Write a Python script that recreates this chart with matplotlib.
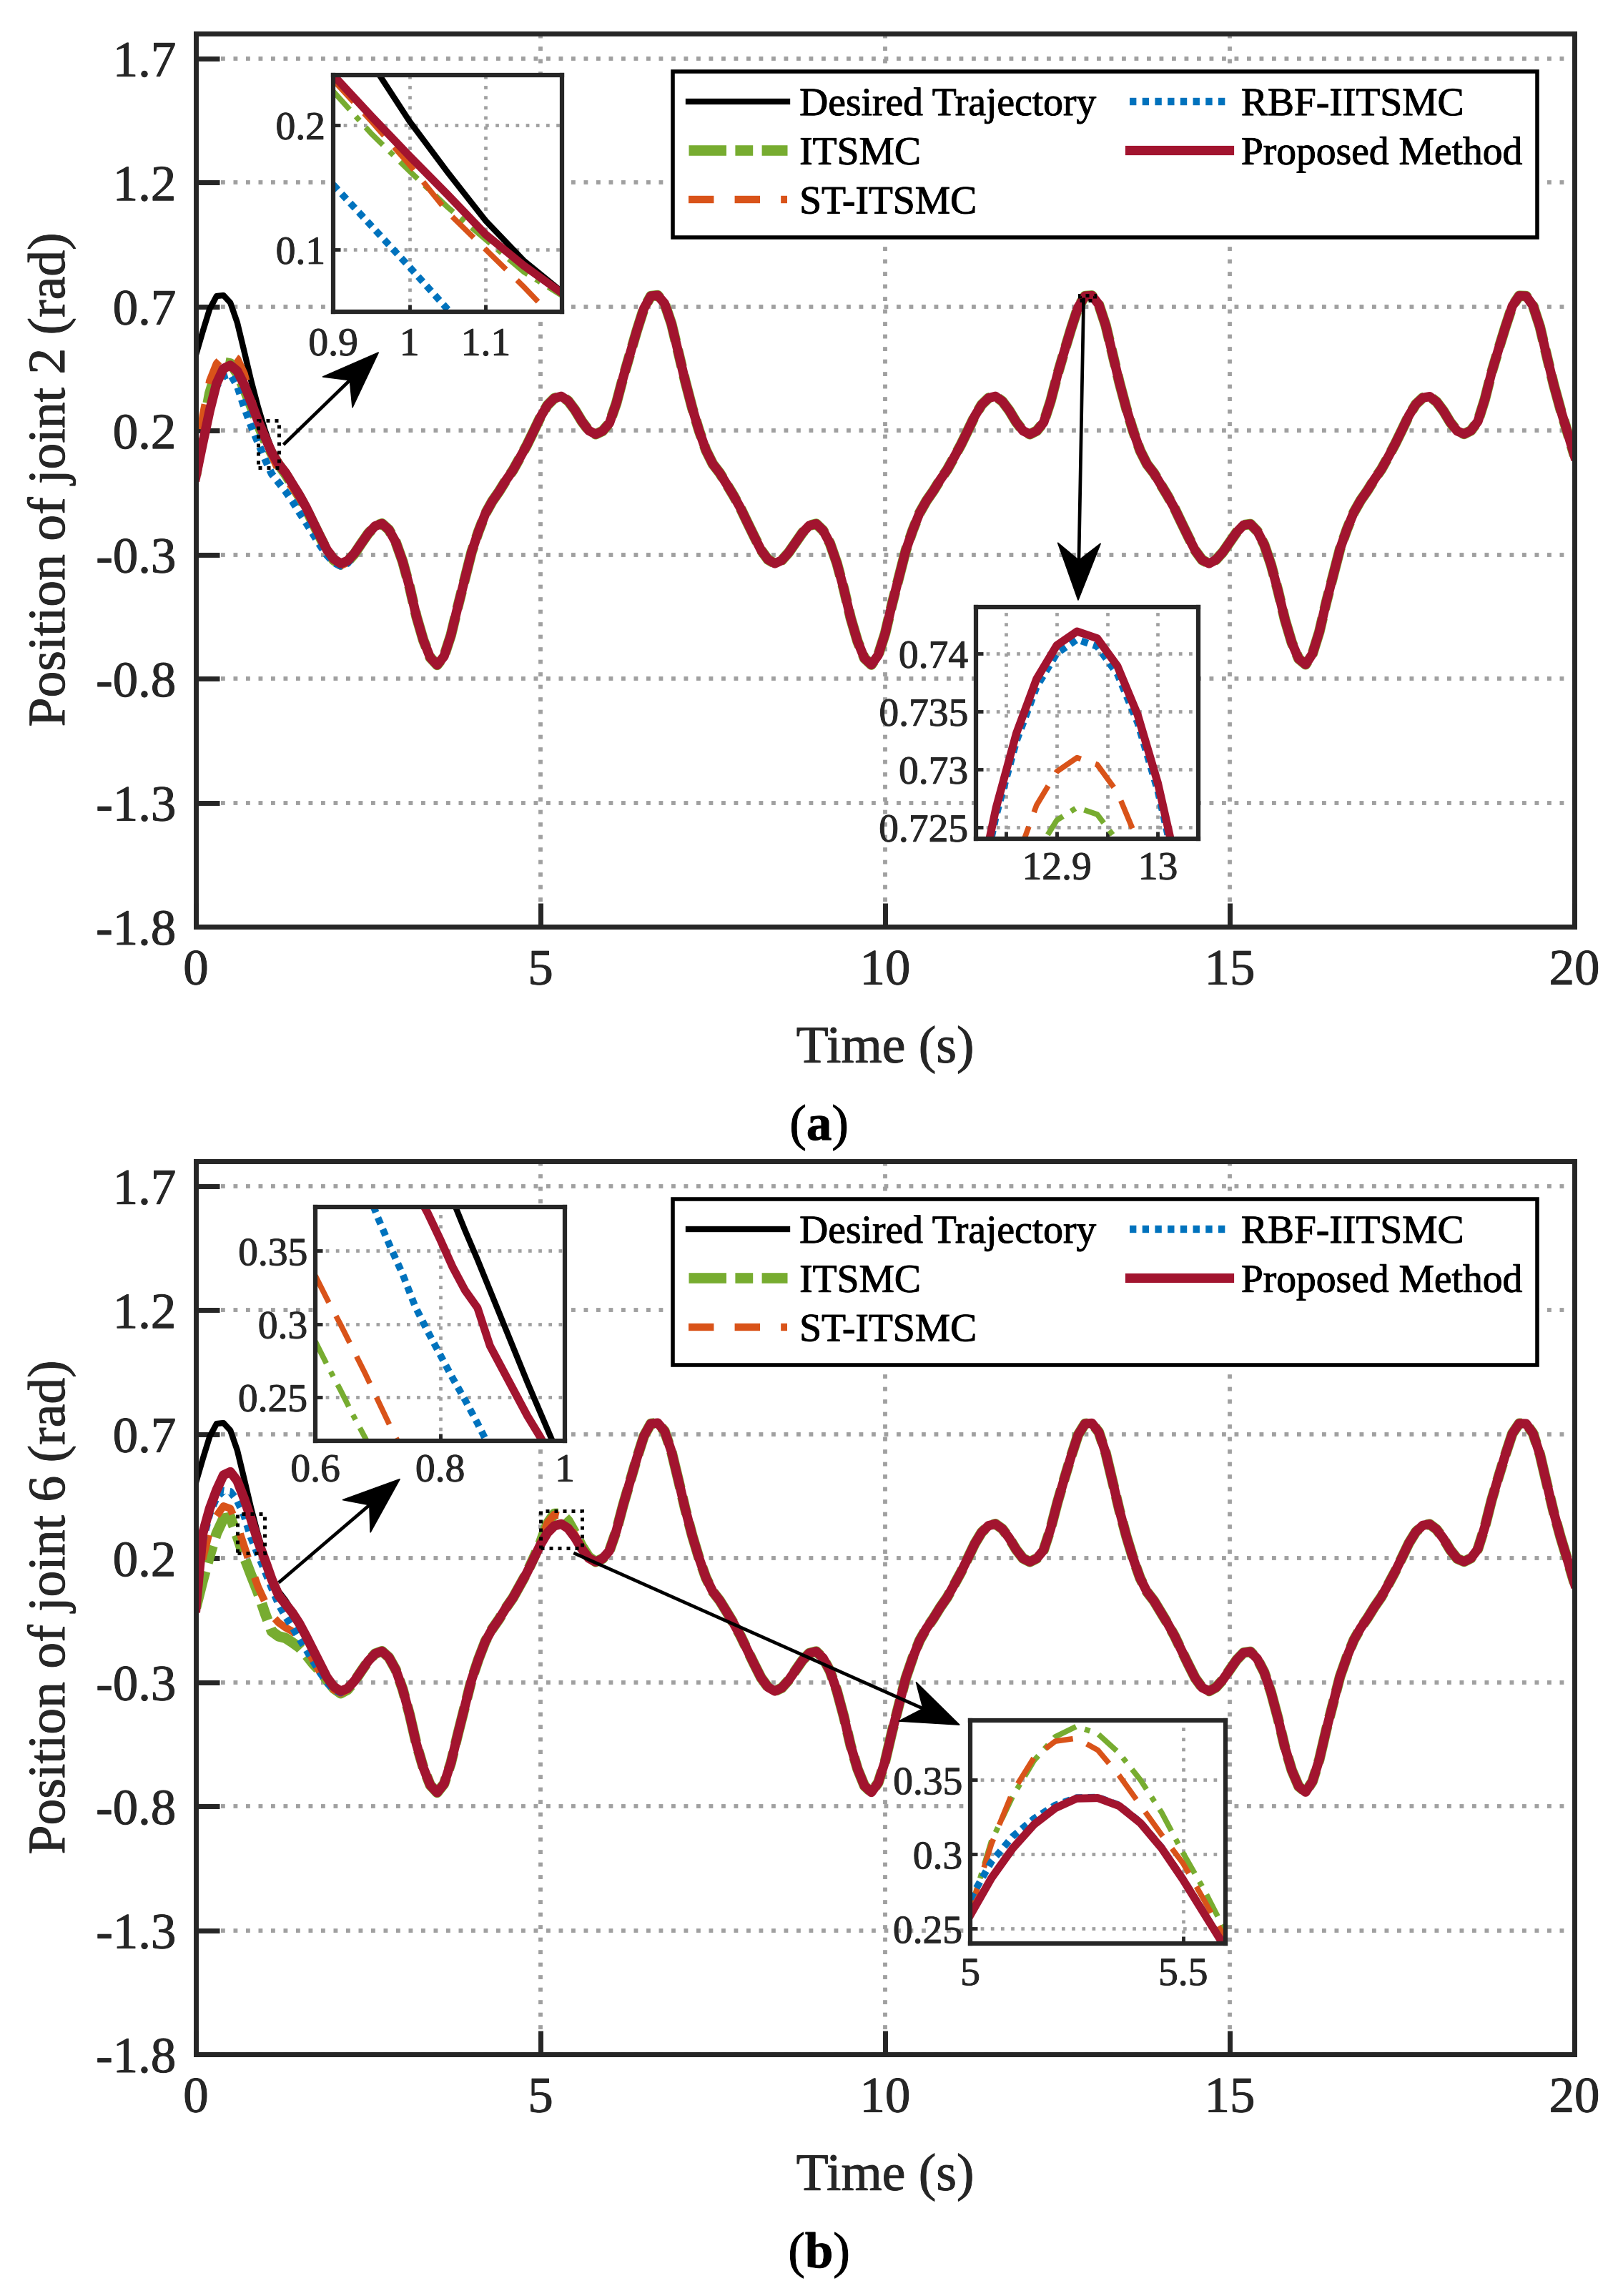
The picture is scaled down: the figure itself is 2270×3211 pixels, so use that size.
import numpy as np
import matplotlib
matplotlib.use("Agg")
import matplotlib.pyplot as plt
import matplotlib.patheffects as pe
from matplotlib.patches import Polygon, Rectangle

plt.rcParams['font.family'] = ['Liberation Serif', 'DejaVu Serif']
plt.rcParams['axes.unicode_minus'] = False
plt.rcParams['mathtext.fontset'] = 'custom'
plt.rcParams['mathtext.rm'] = 'Liberation Serif'
plt.rcParams['mathtext.bf'] = 'Liberation Serif:bold'

# ---------------- data ----------------
dt = 0.1
time = np.round(np.arange(201) * dt, 1)          # 0 .. 20 s

# desired trajectory, 0.1 s samples, 0..20 s
desired = [
    0.505, 0.600, 0.690, 0.742, 0.745, 0.715, 0.635, 0.520, 0.402, 0.296,
    0.203, 0.123, 0.066, 0.030, -0.015, -0.060, -0.110, -0.168, -0.225, -0.280,
    -0.318, -0.336, -0.325, -0.295, -0.255, -0.215, -0.185, -0.175, -0.200, -0.250,
    -0.328, -0.430, -0.550, -0.645, -0.715, -0.745, -0.710, -0.625, -0.510, -0.400,
    -0.290, -0.207, -0.135, -0.085, -0.045, 0.000, 0.040, 0.090, 0.140, 0.197,
    0.255, 0.302, 0.330, 0.338, 0.320, 0.283, 0.237, 0.200, 0.185, 0.198,
    0.230, 0.310, 0.415,
    0.510, 0.605, 0.692, 0.742, 0.745, 0.712, 0.630, 0.515, 0.398, 0.292,
    0.200, 0.121, 0.065, 0.029, -0.016, -0.062, -0.112, -0.170, -0.227, -0.282,
    -0.320, -0.336, -0.323, -0.292, -0.252, -0.212, -0.183, -0.176, -0.203, -0.255,
    -0.335, -0.438, -0.556, -0.650, -0.718, -0.744, -0.705, -0.618, -0.500, -0.392,
    -0.283, -0.202, -0.132, -0.083, -0.043, 0.002, 0.042, 0.092, 0.143, 0.200,
    0.258, 0.304, 0.331, 0.338, 0.318, 0.281, 0.235, 0.199, 0.185, 0.199,
    0.233, 0.318, 0.425,
    0.520, 0.612, 0.697, 0.742, 0.744, 0.708, 0.624, 0.508, 0.392, 0.288,
    0.197, 0.119, 0.064, 0.028, -0.018, -0.064, -0.114, -0.172, -0.229, -0.284,
    -0.322, -0.336, -0.321, -0.290, -0.250, -0.210, -0.181, -0.177, -0.206, -0.260,
    -0.342, -0.446, -0.562, -0.655, -0.720, -0.743, -0.700, -0.611, -0.492, -0.385,
    -0.277, -0.198, -0.130, -0.081, -0.041, 0.004, 0.044, 0.094, 0.146, 0.203,
    0.261, 0.306, 0.332, 0.337, 0.316, 0.279, 0.233, 0.198, 0.186, 0.200,
    0.237, 0.325, 0.435,
    0.528, 0.618, 0.702, 0.743, 0.742, 0.703, 0.618, 0.500, 0.385, 0.284,
    0.193, 0.100,
]

# start-up part (0 .. 2.3 s) of each controller, joint 2
itsmc_j2 = [0.020, 0.200, 0.350, 0.440, 0.475, 0.470, 0.430, 0.370, 0.300, 0.227,
            0.163, 0.108, 0.063, 0.025, -0.020, -0.065, -0.115, -0.172, -0.228, -0.283,
            -0.322, -0.340, -0.328, -0.297]
st_j2 = [0.020, 0.260, 0.400, 0.470, 0.500, 0.510, 0.490, 0.430, 0.330, 0.236,
         0.168, 0.100, 0.038, 0.005, -0.030, -0.070, -0.118, -0.175, -0.232, -0.287,
         -0.327, -0.345, -0.332, -0.298]
rbf_j2 = [0.020, 0.160, 0.290, 0.380, 0.420, 0.428, 0.380, 0.295, 0.220, 0.152,
          0.086, 0.025, -0.010, -0.045, -0.085, -0.130, -0.172, -0.217, -0.262, -0.302,
          -0.332, -0.346, -0.335, -0.300]
prop_j2 = [0.015, 0.150, 0.280, 0.390, 0.450, 0.463, 0.440, 0.385, 0.315, 0.240,
           0.175, 0.112, 0.065, 0.030, -0.015, -0.060, -0.110, -0.168, -0.225, -0.280,
           -0.318, -0.336, -0.325, -0.295]

# start-up part (0 .. 2.3 s) of each controller, joint 6
itsmc_j6 = [0.000, 0.110, 0.210, 0.300, 0.360, 0.365, 0.288, 0.205, 0.132, 0.062,
            -0.020, -0.095, -0.115, -0.122, -0.140, -0.160, -0.190, -0.225, -0.255, -0.290,
            -0.325, -0.345, -0.330, -0.297]
st_j6 = [0.010, 0.200, 0.310, 0.370, 0.410, 0.400, 0.333, 0.248, 0.164, 0.085,
         0.025, -0.030, -0.060, -0.080, -0.095, -0.120, -0.160, -0.210, -0.260, -0.300,
         -0.330, -0.345, -0.330, -0.297]
rbf_j6 = [0.010, 0.270, 0.380, 0.445, 0.472, 0.468, 0.432, 0.373, 0.283, 0.215,
          0.150, 0.080, 0.015, -0.035, -0.078, -0.123, -0.168, -0.215, -0.260, -0.300,
          -0.330, -0.342, -0.328, -0.296]
prop_j6 = [0.000, 0.300, 0.400, 0.475, 0.535, 0.548, 0.512, 0.440, 0.358, 0.269,
           0.194, 0.115, 0.050, 0.015, -0.020, -0.063, -0.115, -0.170, -0.225, -0.280,
           -0.318, -0.336, -0.325, -0.295]

# joint 6: overshoot of ITSMC / ST-ITSMC around t = 4.9 .. 5.7 s
bump_start = 4.9
itsmc_j6_bump = [0.200, 0.262, 0.339, 0.379, 0.380, 0.350, 0.301, 0.248, 0.205]
st_j6_bump = [0.198, 0.262, 0.342, 0.376, 0.370, 0.333, 0.294, 0.243, 0.203]

# zoom window (a) left, t = 0.90 .. 1.20
z1_t = [0.90, 0.95, 1.00, 1.05, 1.10, 1.15, 1.20]
z1_desired = [0.296, 0.250, 0.203, 0.162, 0.123, 0.091, 0.066]
z1_itsmc = [0.227, 0.193, 0.163, 0.134, 0.108, 0.082, 0.063]
z1_st = [0.236, 0.203, 0.168, 0.130, 0.100, 0.070, 0.038]
z1_rbf = [0.152, 0.119, 0.086, 0.052, 0.020, -0.010, -0.040]
z1_prop = [0.240, 0.207, 0.175, 0.144, 0.112, 0.087, 0.065]

# zoom window (a) right, t = 12.82 .. 13.04
z2_t = [12.82, 12.84, 12.86, 12.88, 12.90, 12.92, 12.94, 12.96, 12.98, 13.00, 13.02, 13.04]
z2_desired = [0.7185, 0.7267, 0.7331, 0.7378, 0.7407, 0.7419, 0.7413, 0.7389, 0.7347, 0.7288, 0.7211, 0.7116]
z2_itsmc = [0.7044, 0.7122, 0.7184, 0.7228, 0.7256, 0.7267, 0.7261, 0.7238, 0.7199, 0.7143, 0.7069, 0.6980]
z2_st = [0.7074, 0.7156, 0.7221, 0.7269, 0.7298, 0.7310, 0.7304, 0.7280, 0.7238, 0.7178, 0.7100, 0.7004]
z2_rbf = [0.7178, 0.7260, 0.7324, 0.7371, 0.7400, 0.7412, 0.7406, 0.7382, 0.7340, 0.7281, 0.7204, 0.7109]
z2_prop = [0.7185, 0.7267, 0.7331, 0.7378, 0.7407, 0.7419, 0.7413, 0.7389, 0.7347, 0.7288, 0.7211, 0.7116]

# zoom window (b) left, t = 0.60 .. 1.00
z3_t = [0.60, 0.62, 0.64, 0.66, 0.68, 0.70, 0.72, 0.74, 0.76, 0.78, 0.80,
        0.82, 0.84, 0.86, 0.88, 0.90, 0.92, 0.94, 0.96, 0.98, 1.00]
z3_desired = [0.635, 0.612, 0.589, 0.566, 0.543, 0.520, 0.496, 0.472, 0.448, 0.424, 0.405,
              0.385, 0.364, 0.344, 0.323, 0.302, 0.281, 0.260, 0.240, 0.220, 0.199]
z3_itsmc = [0.288, 0.271, 0.255, 0.238, 0.222, 0.205, 0.190, 0.175, 0.160, 0.146, 0.132,
            0.118, 0.104, 0.090, 0.076, 0.062, 0.046, 0.030, 0.014, -0.002, -0.020]
z3_st = [0.333, 0.316, 0.300, 0.283, 0.266, 0.248, 0.230, 0.213, 0.196, 0.180, 0.164,
         0.148, 0.132, 0.117, 0.102, 0.088, 0.075, 0.062, 0.050, 0.038, 0.027]
z3_rbf = [0.435, 0.428, 0.420, 0.410, 0.395, 0.373, 0.353, 0.334, 0.312, 0.295, 0.279,
          0.263, 0.248, 0.232, 0.215, 0.200, 0.185, 0.170, 0.155, 0.140, 0.125]
z3_prop = [0.512, 0.499, 0.485, 0.470, 0.455, 0.440, 0.424, 0.408, 0.392, 0.376, 0.358,
           0.339, 0.323, 0.311, 0.285, 0.269, 0.253, 0.237, 0.223, 0.208, 0.194]

# zoom window (b) right, t = 5.00 .. 5.60
z4_t = [5.00, 5.05, 5.10, 5.15, 5.20, 5.25, 5.30, 5.35, 5.40, 5.45, 5.50, 5.55, 5.60]
z4_desired = [0.259, 0.284, 0.304, 0.320, 0.331, 0.3375, 0.3378, 0.3325, 0.321, 0.304, 0.283, 0.260, 0.237]
z4_itsmc = [0.262, 0.309, 0.339, 0.363, 0.379, 0.386, 0.381, 0.368, 0.350, 0.328, 0.301, 0.276, 0.248]
z4_st = [0.262, 0.307, 0.342, 0.365, 0.376, 0.378, 0.370, 0.353, 0.333, 0.313, 0.294, 0.269, 0.243]
z4_rbf = [0.270, 0.295, 0.312, 0.324, 0.333, 0.338, 0.3383, 0.333, 0.3215, 0.3045, 0.2835, 0.2605, 0.2375]
z4_prop = [0.259, 0.284, 0.304, 0.320, 0.331, 0.3375, 0.3378, 0.3325, 0.321, 0.304, 0.283, 0.260, 0.237]

y_ticks = [-1.8, -1.3, -0.8, -0.3, 0.2, 0.7, 1.2, 1.7]
x_ticks = [0, 5, 10, 15, 20]

order = ['desired', 'itsmc', 'st', 'rbf', 'prop']
names = {'desired': 'Desired Trajectory', 'itsmc': 'ITSMC', 'st': 'ST-ITSMC',
         'rbf': 'RBF-IITSMC', 'prop': 'Proposed Method'}

# ---------------- styles ----------------
C_GREEN, C_ORANGE, C_BLUE, C_RED = '#77AC30', '#D95319', '#0072BD', '#A2142F'
AX_COLOR = '#262626'
GRID_COLOR = '#a0a0a0'

main_style = {
    'desired': dict(color='k', lw=6.0, ls='-'),
    'itsmc': dict(color=C_GREEN, lw=10.5, ls=(0, (3.6, 0.85, 1.7, 0.85))),
    'st': dict(color=C_ORANGE, lw=7.5, ls=(0, (3.4, 2.8))),
    'rbf': dict(color=C_BLUE, lw=7.5, ls=(0, (0.9, 0.8))),
    'prop': dict(color=C_RED, lw=9.5, ls='-'),
}
zoom_style = {
    'desired': dict(color='k', lw=6.0, ls='-'),
    'itsmc': dict(color=C_GREEN, lw=5.5, ls=(0, (4.5, 1.7, 1.0, 1.7))),
    'st': dict(color=C_ORANGE, lw=5.5, ls=(0, (5.5, 2.8))),
    'rbf': dict(color=C_BLUE, lw=7.0, ls=(0, (1.0, 0.8))),
    'prop': dict(color=C_RED, lw=8.0, ls='-'),
}


def full_series(head, bump=None):
    s = np.array(desired, dtype=float)
    s[:len(head)] = head
    if bump is not None:
        i0 = int(round(bump_start / dt))
        s[i0:i0 + len(bump)] = bump
    return s


joint2 = {'desired': np.array(desired), 'itsmc': full_series(itsmc_j2),
          'st': full_series(st_j2), 'rbf': full_series(rbf_j2), 'prop': full_series(prop_j2)}
joint6 = {'desired': np.array(desired), 'itsmc': full_series(itsmc_j6, itsmc_j6_bump),
          'st': full_series(st_j6, st_j6_bump), 'rbf': full_series(rbf_j6), 'prop': full_series(prop_j6)}

W, H = 2270, 3211
fig = plt.figure(figsize=(W / 100, H / 100), dpi=100)


def px_rect(left, top, right, bottom):
    return [left / W, 1 - bottom / H, (right - left) / W, (bottom - top) / H]


def dotted_grid(ax, lw):
    ax.grid(True, color=GRID_COLOR, linestyle=(0, (1, 2.0)), linewidth=lw)
    ax.set_axisbelow(True)


def style_main(ax):
    ax.set_xlim(0, 20)
    ax.set_ylim(-1.8, 1.8)
    ax.set_xticks(x_ticks)
    ax.set_xticklabels([str(v) for v in x_ticks])
    ax.set_yticks(y_ticks)
    ax.set_yticklabels(['%g' % v for v in y_ticks])
    ax.tick_params(axis='both', direction='in', length=24, width=5, labelsize=51,
                   color=AX_COLOR, labelcolor=AX_COLOR)
    ax.tick_params(axis='x', pad=22)
    ax.tick_params(axis='y', pad=20)
    for s in ax.spines.values():
        s.set_linewidth(5)
        s.set_color(AX_COLOR)
    dotted_grid(ax, 4.2)


def draw_arrow(ax, tail, tip, head_len=80, head_half=30, notch=0.7):
    to_px = ax.transData.transform
    to_data = ax.transData.inverted().transform
    p0 = to_px(tail)
    p1 = to_px(tip)
    u = (p1 - p0) / np.hypot(*(p1 - p0))
    n = np.array([-u[1], u[0]])
    back = p1 - head_len * u
    notch_pt = p1 - notch * head_len * u
    pts = np.array([p1, back + head_half * n, notch_pt, back - head_half * n])
    ax.add_patch(Polygon(to_data(pts), closed=True, fc='k', ec='k', lw=1,
                         zorder=6, clip_on=False))
    end = to_data(notch_pt)
    ax.plot([tail[0], end[0]], [tail[1], end[1]], color='k', lw=3.4,
            zorder=6, clip_on=False, solid_capstyle='butt')


def zoom_box(ax, xlim, ylim):
    ax.add_patch(Rectangle((xlim[0], ylim[0]), xlim[1] - xlim[0], ylim[1] - ylim[0],
                           fill=False, ec='k', lw=3.6, ls=(0, (1, 1.4)), zorder=6))


def make_zoom(rect, tgrid, curves, xlim, ylim, xticks, xlabels, yticks, ylabels, xpad):
    z = fig.add_axes(rect)
    for key in order:
        z.plot(tgrid, curves[key], **zoom_style[key])
    z.set_xlim(*xlim)
    z.set_ylim(*ylim)
    z.set_xticks(xticks)
    z.set_xticklabels(xlabels)
    z.set_yticks(yticks)
    z.set_yticklabels(ylabels)
    z.tick_params(axis='both', direction='in', length=7, width=3.5, labelsize=40,
                  color=AX_COLOR, labelcolor=AX_COLOR)
    z.tick_params(axis='x', pad=xpad)
    z.tick_params(axis='y', pad=8)
    for s in z.spines.values():
        s.set_linewidth(4.5)
        s.set_color(AX_COLOR)
    dotted_grid(z, 3.4)
    z.set_facecolor('white')
    return z


# ---------------- main panels ----------------
ax1 = fig.add_axes(px_rect(274, 47, 2202, 1296))
ax2 = fig.add_axes(px_rect(274, 1624, 2202, 2873))

handles = []
for key in order:
    h, = ax1.plot(time, joint2[key], label=names[key], **main_style[key])
    handles.append(h)
for key in order:
    ax2.plot(time, joint6[key], label=names[key], **main_style[key])

for ax in (ax1, ax2):
    style_main(ax)
    leg = ax.legend(handles, [names[k] for k in order], loc='upper left',
                    bbox_to_anchor=(0.3462, 0.774, 0.6266, 0.1836), mode='expand',
                    ncol=2, fontsize=40, frameon=True, fancybox=False,
                    edgecolor='k', handlelength=2.5, handletextpad=0.3,
                    labelspacing=0.3, borderpad=0.38, borderaxespad=0)
    leg.get_frame().set_linewidth(4)
    leg.get_frame().set_alpha(1)

fig.text(72 / W, 1 - 671 / H, 'Position of joint 2 (rad)', rotation=90,
         ha='center', va='center', fontsize=53, color=AX_COLOR)
fig.text(72 / W, 1 - 2248 / H, 'Position of joint 6 (rad)', rotation=90,
         ha='center', va='center', fontsize=53, color=AX_COLOR)
fig.text(1238 / W, 1 - 1468 / H, 'Time (s)', ha='center', va='center',
         fontsize=53, color=AX_COLOR)
fig.text(1238 / W, 1 - 3045 / H, 'Time (s)', ha='center', va='center',
         fontsize=53, color=AX_COLOR)
fig.text(1145 / W, 1 - 1577 / H, r'($\mathbf{a}$)', ha='center', va='center',
         fontsize=51, color='k')
fig.text(1145 / W, 1 - 3154 / H, r'($\mathbf{b}$)', ha='center', va='center',
         fontsize=51, color='k')

# zoom marks and arrows
zoom_box(ax1, (0.9, 1.2), (0.05, 0.24))
zoom_box(ax1, (12.82, 13.04), (0.724, 0.744))
zoom_box(ax2, (0.6, 1.0), (0.22, 0.38))
zoom_box(ax2, (5.0, 5.6), (0.24, 0.39))
draw_arrow(ax1, (1.27, 0.143), (2.65, 0.515))
draw_arrow(ax1, (12.88, 0.735), (12.80, -0.484))
draw_arrow(ax2, (1.20, 0.101), (2.96, 0.519))
draw_arrow(ax2, (5.48, 0.221), (11.08, -0.472))

# zoom windows
z1 = {'desired': z1_desired, 'itsmc': z1_itsmc, 'st': z1_st, 'rbf': z1_rbf, 'prop': z1_prop}
z2 = {'desired': z2_desired, 'itsmc': z2_itsmc, 'st': z2_st, 'rbf': z2_rbf, 'prop': z2_prop}
z3 = {'desired': z3_desired, 'itsmc': z3_itsmc, 'st': z3_st, 'rbf': z3_rbf, 'prop': z3_prop}
z4 = {'desired': z4_desired, 'itsmc': z4_itsmc, 'st': z4_st, 'rbf': z4_rbf, 'prop': z4_prop}

make_zoom(px_rect(466, 105, 786, 436), z1_t, z1, (0.9, 1.2), (0.05, 0.24),
          [0.9, 1.0, 1.1], ['0.9', '1', '1.1'], [0.1, 0.2], ['0.1', '0.2'], 15)
make_zoom(px_rect(1365, 849, 1676, 1173), z2_t, z2, (12.82, 13.04), (0.724, 0.744),
          [12.85, 12.9, 12.95, 13.0], ['', '12.9', '', '13'],
          [0.725, 0.73, 0.735, 0.74], ['0.725', '0.73', '0.735', '0.74'], 12)
make_zoom(px_rect(441, 1688, 790, 2015), z3_t, z3, (0.6, 1.0), (0.22, 0.38),
          [0.6, 0.8, 1.0], ['0.6', '0.8', '1'], [0.25, 0.3, 0.35], ['0.25', '0.3', '0.35'], 12)
make_zoom(px_rect(1357, 2406, 1714, 2718), z4_t, z4, (5.0, 5.6), (0.24, 0.39),
          [5.0, 5.5], ['5', '5.5'], [0.25, 0.3, 0.35], ['0.25', '0.3', '0.35'], 13)

# MATLAB export renders glyphs slightly heavier
for txt in fig.findobj(matplotlib.text.Text):
    if txt.get_text():
        txt.set_path_effects([pe.withStroke(linewidth=0.7, foreground=txt.get_color())])

fig.savefig('out.png', dpi=100, facecolor='white')
